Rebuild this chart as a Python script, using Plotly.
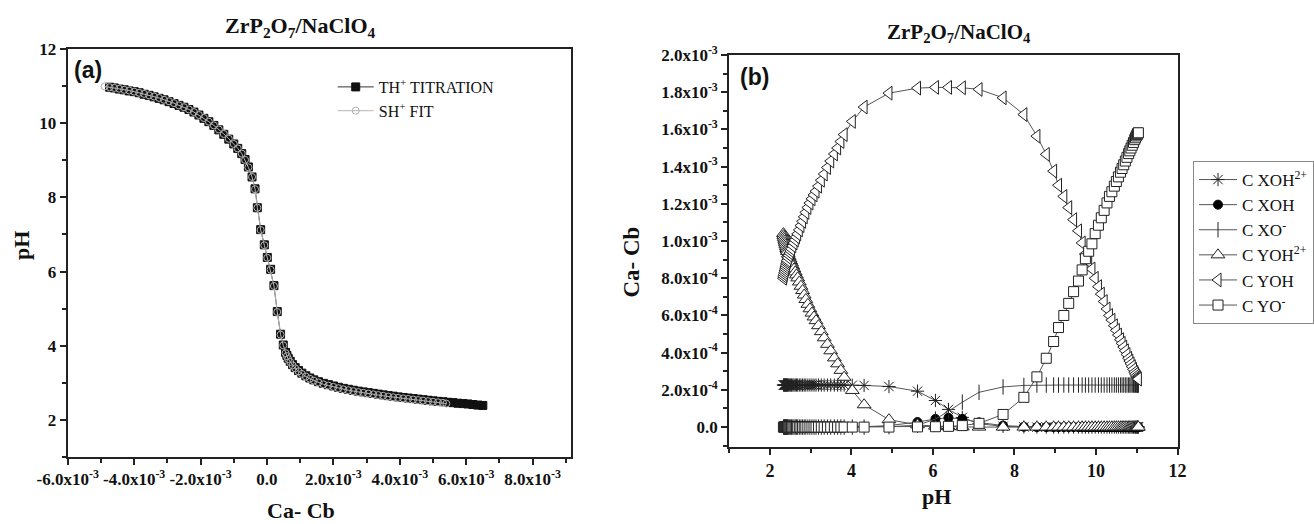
import plotly.graph_objects as go

W, H = 1314, 524

# ---------------- Panel (a) data ----------------
TITR_CACB = [-4.74e-3, -4.60e-3, -4.45e-3, -4.30e-3, -4.15e-3, -4.00e-3, -3.85e-3, -3.70e-3, -3.55e-3, -3.40e-3,
             -3.25e-3, -3.10e-3, -2.95e-3, -2.80e-3, -2.65e-3, -2.50e-3, -2.35e-3, -2.20e-3, -2.05e-3, -1.90e-3,
             -1.75e-3, -1.60e-3, -1.45e-3, -1.30e-3, -1.15e-3, -1.00e-3, -0.88e-3, -0.76e-3, -0.66e-3, -0.56e-3,
             -0.45e-3, -0.36e-3, -0.29e-3, -0.19e-3, -0.08e-3, 0.01e-3, 0.11e-3, 0.21e-3, 0.31e-3, 0.41e-3,
             0.49e-3, 0.56e-3, 0.60e-3, 0.64e-3, 0.70e-3, 0.77e-3, 0.85e-3, 0.95e-3, 1.05e-3, 1.17e-3,
             1.29e-3, 1.41e-3, 1.55e-3, 1.70e-3, 1.85e-3, 2.00e-3, 2.15e-3, 2.30e-3, 2.45e-3, 2.60e-3,
             2.75e-3, 2.90e-3, 3.05e-3, 3.20e-3, 3.35e-3, 3.50e-3, 3.65e-3, 3.80e-3, 3.95e-3, 4.10e-3,
             4.25e-3, 4.40e-3, 4.55e-3, 4.70e-3, 4.85e-3, 5.00e-3, 5.15e-3, 5.30e-3, 5.45e-3, 5.60e-3,
             5.75e-3, 5.90e-3, 6.05e-3, 6.20e-3, 6.35e-3, 6.50e-3]
TITR_PH = [10.97, 10.95, 10.92, 10.90, 10.87, 10.85, 10.82, 10.78, 10.75, 10.71,
           10.67, 10.63, 10.58, 10.53, 10.48, 10.43, 10.37, 10.30, 10.22, 10.13,
           10.04, 9.94, 9.82, 9.70, 9.57, 9.44, 9.32, 9.18, 9.02, 8.82,
           8.55, 8.23, 7.72, 7.13, 6.72, 6.38, 6.06, 5.62, 4.92, 4.31,
           4.02, 3.82, 3.74, 3.66, 3.58, 3.49, 3.41, 3.33, 3.26, 3.19,
           3.13, 3.08, 3.03, 2.985, 2.95, 2.915, 2.88, 2.85, 2.825, 2.80,
           2.775, 2.755, 2.735, 2.715, 2.695, 2.675, 2.655, 2.64, 2.62, 2.605,
           2.59, 2.575, 2.56, 2.545, 2.53, 2.515, 2.50, 2.49, 2.475, 2.465,
           2.45, 2.44, 2.43, 2.415, 2.40, 2.39]

FIT_CACB = [-4.89e-3, -4.74e-3, -4.60e-3, -4.45e-3, -4.30e-3, -4.15e-3, -4.00e-3, -3.85e-3, -3.70e-3, -3.55e-3,
            -3.40e-3, -3.25e-3, -3.10e-3, -2.95e-3, -2.80e-3, -2.65e-3, -2.50e-3, -2.35e-3, -2.20e-3, -2.05e-3,
            -1.90e-3, -1.75e-3, -1.60e-3, -1.45e-3, -1.30e-3, -1.15e-3, -1.00e-3, -0.88e-3, -0.76e-3, -0.66e-3,
            -0.56e-3, -0.45e-3, -0.36e-3, -0.29e-3, -0.19e-3, -0.08e-3, 0.01e-3, 0.11e-3, 0.21e-3, 0.31e-3,
            0.41e-3, 0.49e-3, 0.56e-3, 0.60e-3, 0.64e-3, 0.70e-3, 0.77e-3, 0.85e-3, 0.95e-3, 1.05e-3,
            1.17e-3, 1.29e-3, 1.41e-3, 1.55e-3, 1.70e-3, 1.85e-3, 2.00e-3, 2.15e-3, 2.30e-3, 2.45e-3,
            2.60e-3, 2.75e-3, 2.90e-3, 3.05e-3, 3.20e-3, 3.35e-3, 3.50e-3, 3.65e-3, 3.80e-3, 3.95e-3,
            4.10e-3, 4.25e-3, 4.40e-3, 4.55e-3, 4.70e-3, 4.85e-3, 5.00e-3, 5.15e-3, 5.30e-3, 5.40e-3]
FIT_PH = [10.99, 10.97, 10.95, 10.93, 10.90, 10.88, 10.85, 10.82, 10.79, 10.75,
          10.72, 10.68, 10.63, 10.59, 10.54, 10.48, 10.43, 10.37, 10.30, 10.22,
          10.14, 10.04, 9.94, 9.83, 9.71, 9.58, 9.44, 9.32, 9.18, 9.01,
          8.81, 8.55, 8.22, 7.72, 7.12, 6.71, 6.37, 6.05, 5.61, 4.91,
          4.30, 4.01, 3.80, 3.72, 3.64, 3.56, 3.47, 3.39, 3.31, 3.24,
          3.17, 3.11, 3.06, 3.01, 2.96, 2.925, 2.89, 2.855, 2.825, 2.80,
          2.775, 2.75, 2.73, 2.71, 2.69, 2.67, 2.65, 2.63, 2.61, 2.595,
          2.58, 2.565, 2.55, 2.535, 2.52, 2.505, 2.49, 2.475, 2.46, 2.44]

# ---------------- Panel (b) data ----------------
PH_B = [2.33, 2.34, 2.35, 2.36, 2.37, 2.38, 2.39, 2.40, 2.41, 2.42,
        2.43, 2.45, 2.47, 2.49, 2.51, 2.53, 2.56, 2.59, 2.62, 2.65,
        2.68, 2.72, 2.76, 2.80, 2.84, 2.88, 2.93, 2.98, 3.03, 3.08,
        3.13, 3.19, 3.26, 3.33, 3.41, 3.49, 3.58, 3.66, 3.74, 3.82,
        4.02, 4.31, 4.92, 5.62, 6.06, 6.38, 6.72, 7.13, 7.72, 8.23,
        8.55, 8.78, 8.96, 9.08, 9.21, 9.33, 9.45, 9.57, 9.66, 9.74,
        9.82, 9.90, 9.98, 10.06, 10.13, 10.20, 10.27, 10.33, 10.39, 10.45,
        10.50, 10.55, 10.60, 10.64, 10.68, 10.72, 10.76, 10.80, 10.83, 10.86,
        10.89, 10.92, 10.95, 10.97, 10.99, 11.01, 11.02, 11.03, 11.04]

C_XOH2 = [
    2.26e-4, 2.26e-4, 2.26e-4, 2.26e-4, 2.26e-4, 2.26e-4, 2.26e-4, 2.26e-4, 2.26e-4, 2.26e-4,
    2.26e-4, 2.26e-4, 2.26e-4, 2.26e-4, 2.26e-4, 2.26e-4, 2.26e-4, 2.26e-4, 2.26e-4, 2.26e-4,
    2.26e-4, 2.26e-4, 2.26e-4, 2.26e-4, 2.26e-4, 2.26e-4, 2.26e-4, 2.26e-4, 2.26e-4, 2.26e-4,
    2.26e-4, 2.26e-4, 2.26e-4, 2.26e-4, 2.26e-4, 2.26e-4, 2.26e-4, 2.26e-4, 2.26e-4, 2.26e-4,
    2.25e-4, 2.24e-4, 2.18e-4, 1.93e-4, 1.43e-4, 9.5e-5, 5.2e-5, 1.8e-5, 4e-6, 1e-6,
    0, 0, 0, 0, 0, 0, 0, 0, 0, 0,
    0, 0, 0, 0, 0, 0, 0, 0, 0, 0,
    0, 0, 0, 0, 0, 0, 0, 0, 0, 0,
    0, 0, 0, 0, 0, 0, 0, 0, 0]
C_XOH = [
    0, 0, 0, 0, 0, 0, 0, 0, 0, 0,
    0, 0, 0, 0, 0, 0, 0, 0, 0, 0,
    0, 0, 0, 0, 0, 0, 0, 0, 0, 0,
    0, 0, 0, 0, 0, 0, 0, 0, 0, 0,
    1e-6, 2e-6, 8e-6, 2.7e-5, 4.4e-5, 5.0e-5, 4.4e-5, 2.5e-5, 8e-6, 2e-6,
    0, 0, 0, 0, 0, 0, 0, 0, 0, 0,
    0, 0, 0, 0, 0, 0, 0, 0, 0, 0,
    0, 0, 0, 0, 0, 0, 0, 0, 0, 0,
    0, 0, 0, 0, 0, 0, 0, 0, 0]
C_XO = [
    0, 0, 0, 0, 0, 0, 0, 0, 0, 0,
    0, 0, 0, 0, 0, 0, 0, 0, 0, 0,
    0, 0, 0, 0, 0, 0, 0, 0, 0, 0,
    0, 0, 0, 0, 0, 0, 0, 0, 0, 0,
    0, 0, 2e-6, 1.0e-5, 4.3e-5, 8.5e-5, 1.34e-4, 1.87e-4, 2.16e-4, 2.24e-4,
    2.26e-4, 2.26e-4, 2.26e-4, 2.26e-4, 2.26e-4, 2.26e-4, 2.26e-4, 2.26e-4, 2.26e-4, 2.26e-4,
    2.26e-4, 2.26e-4, 2.26e-4, 2.26e-4, 2.26e-4, 2.26e-4, 2.26e-4, 2.26e-4, 2.26e-4, 2.26e-4,
    2.26e-4, 2.26e-4, 2.26e-4, 2.26e-4, 2.26e-4, 2.26e-4, 2.26e-4, 2.26e-4, 2.26e-4, 2.26e-4,
    2.26e-4, 2.26e-4, 2.26e-4, 2.26e-4, 2.26e-4, 2.26e-4, 2.26e-4, 2.26e-4, 2.26e-4]
C_YOH2 = [
    1.04e-3, 1.03e-3, 1.02e-3, 1.01e-3, 1.00e-3, 9.9e-4, 9.8e-4, 9.7e-4, 9.6e-4, 9.52e-4,
    9.44e-4, 9.3e-4, 9.17e-4, 9.05e-4, 8.93e-4, 8.82e-4, 8.66e-4, 8.5e-4, 8.34e-4, 8.18e-4,
    8.02e-4, 7.8e-4, 7.57e-4, 7.34e-4, 7.1e-4, 6.86e-4, 6.6e-4, 6.36e-4, 6.13e-4, 5.92e-4,
    5.72e-4, 5.45e-4, 5.13e-4, 4.8e-4, 4.45e-4, 4.1e-4, 3.72e-4, 3.4e-4, 3.05e-4, 2.68e-4,
    1.97e-4, 1.2e-4, 4.0e-5, 1.2e-5, 5e-6, 2e-6, 1e-6, 0, 0, 0,
    0, 0, 0, 0, 0, 0, 0, 0, 0, 0,
    0, 0, 0, 0, 0, 0, 0, 0, 0, 0,
    0, 0, 0, 0, 0, 0, 0, 0, 0, 0,
    0, 0, 0, 0, 0, 0, 0, 0, 0]
C_YOH = [
    8.0e-4, 8.1e-4, 8.2e-4, 8.3e-4, 8.4e-4, 8.5e-4, 8.6e-4, 8.7e-4, 8.8e-4, 8.88e-4,
    8.96e-4, 9.1e-4, 9.23e-4, 9.35e-4, 9.47e-4, 9.58e-4, 9.74e-4, 9.9e-4, 1.006e-3, 1.022e-3,
    1.038e-3, 1.06e-3, 1.083e-3, 1.106e-3, 1.13e-3, 1.154e-3, 1.18e-3, 1.204e-3, 1.227e-3, 1.248e-3,
    1.268e-3, 1.295e-3, 1.327e-3, 1.36e-3, 1.395e-3, 1.43e-3, 1.468e-3, 1.50e-3, 1.535e-3, 1.572e-3,
    1.643e-3, 1.72e-3, 1.795e-3, 1.822e-3, 1.826e-3, 1.826e-3, 1.824e-3, 1.815e-3, 1.77e-3, 1.68e-3,
    1.564e-3, 1.466e-3, 1.376e-3, 1.30e-3, 1.24e-3, 1.18e-3, 1.115e-3, 1.055e-3, 9.9e-4, 9.3e-4,
    8.9e-4, 8.5e-4, 8.0e-4, 7.55e-4, 7.15e-4, 6.75e-4, 6.35e-4, 6.0e-4, 5.75e-4, 5.45e-4,
    5.2e-4, 4.95e-4, 4.7e-4, 4.5e-4, 4.3e-4, 4.1e-4, 3.9e-4, 3.7e-4, 3.55e-4, 3.4e-4,
    3.25e-4, 3.1e-4, 2.95e-4, 2.85e-4, 2.75e-4, 2.68e-4, 2.64e-4, 2.6e-4, 2.58e-4]
C_YO = [
    0, 0, 0, 0, 0, 0, 0, 0, 0, 0,
    0, 0, 0, 0, 0, 0, 0, 0, 0, 0,
    0, 0, 0, 0, 0, 0, 0, 0, 0, 0,
    0, 0, 0, 0, 0, 0, 0, 0, 0, 0,
    0, 0, 0, 1e-6, 2e-6, 4e-6, 8e-6, 2.0e-5, 6.8e-5, 1.6e-4,
    2.7e-4, 3.7e-4, 4.6e-4, 5.35e-4, 6.0e-4, 6.65e-4, 7.28e-4, 7.85e-4, 8.45e-4, 9.05e-4,
    9.45e-4, 9.85e-4, 1.04e-3, 1.085e-3, 1.125e-3, 1.165e-3, 1.205e-3, 1.24e-3, 1.265e-3, 1.295e-3,
    1.32e-3, 1.345e-3, 1.37e-3, 1.39e-3, 1.41e-3, 1.43e-3, 1.45e-3, 1.47e-3, 1.485e-3, 1.50e-3,
    1.515e-3, 1.53e-3, 1.545e-3, 1.555e-3, 1.565e-3, 1.572e-3, 1.576e-3, 1.58e-3, 1.582e-3]

# tick labels
A_XTICKS = [-6e-3, -4e-3, -2e-3, 0.0, 2e-3, 4e-3, 6e-3, 8e-3]
A_XLABELS = ["-6.0x10<sup>-3</sup>", "-4.0x10<sup>-3</sup>", "-2.0x10<sup>-3</sup>", "0.0",
             "2.0x10<sup>-3</sup>", "4.0x10<sup>-3</sup>", "6.0x10<sup>-3</sup>", "8.0x10<sup>-3</sup>"]
A_YTICKS = [2, 4, 6, 8, 10, 12]
B_XTICKS = [2, 4, 6, 8, 10, 12]
B_YTICKS = [0.0, 2e-4, 4e-4, 6e-4, 8e-4, 1.0e-3, 1.2e-3, 1.4e-3, 1.6e-3, 1.8e-3, 2.0e-3]
B_YLABELS = ["0.0", "2.0x10<sup>-4</sup>", "4.0x10<sup>-4</sup>", "6.0x10<sup>-4</sup>", "8.0x10<sup>-4</sup>",
             "1.0x10<sup>-3</sup>", "1.2x10<sup>-3</sup>", "1.4x10<sup>-3</sup>", "1.6x10<sup>-3</sup>",
             "1.8x10<sup>-3</sup>", "2.0x10<sup>-3</sup>"]

SERIF = "Liberation Serif"

def px(x):
    return x / W

def py(y):
    return 1 - y / H

fig = go.Figure()

# Panel (a)
fig.add_trace(go.Scatter(
    x=TITR_CACB, y=TITR_PH, mode="lines+markers", name="TH<sup>+</sup> TITRATION",
    xaxis="x", yaxis="y", legend="legend",
    line=dict(color="#333333", width=1),
    marker=dict(symbol="square", size=8, color="#111111", line=dict(color="#111111", width=1))))
fig.add_trace(go.Scatter(
    x=FIT_CACB, y=FIT_PH, mode="lines+markers", name="SH<sup>+</sup> FIT",
    xaxis="x", yaxis="y", legend="legend",
    line=dict(color="#b5b5b5", width=1),
    marker=dict(symbol="circle-open", size=7, color="#b0b0b0", line=dict(width=1))))

# Panel (b)
common_line = dict(color="#555555", width=1)
fig.add_trace(go.Scatter(
    x=PH_B, y=C_XOH2, mode="lines+markers", name="C XOH<sup>2+</sup>",
    xaxis="x2", yaxis="y2", legend="legend2", line=common_line,
    marker=dict(symbol="asterisk-open", size=11, color="#222222", line=dict(color="#222222", width=1))))
fig.add_trace(go.Scatter(
    x=PH_B, y=C_XOH, mode="lines+markers", name="C XOH",
    xaxis="x2", yaxis="y2", legend="legend2", line=common_line,
    marker=dict(symbol="circle", size=9, color="#000000", line=dict(color="#000000", width=1))))
fig.add_trace(go.Scatter(
    x=PH_B, y=C_XO, mode="lines+markers", name="C XO<sup>-</sup>",
    xaxis="x2", yaxis="y2", legend="legend2", line=common_line,
    marker=dict(symbol="line-ns-open", size=11, color="#222222", line=dict(color="#222222", width=1))))
fig.add_trace(go.Scatter(
    x=PH_B, y=C_YOH2, mode="lines+markers", name="C YOH<sup>2+</sup>",
    xaxis="x2", yaxis="y2", legend="legend2", line=common_line,
    marker=dict(symbol="triangle-up", size=12, color="white", line=dict(color="#222222", width=1))))
fig.add_trace(go.Scatter(
    x=PH_B, y=C_YOH, mode="lines+markers", name="C YOH",
    xaxis="x2", yaxis="y2", legend="legend2", line=common_line,
    marker=dict(symbol="triangle-left", size=12, color="white", line=dict(color="#222222", width=1))))
fig.add_trace(go.Scatter(
    x=PH_B, y=C_YO, mode="lines+markers", name="C YO<sup>-</sup>",
    xaxis="x2", yaxis="y2", legend="legend2", line=common_line,
    marker=dict(symbol="square", size=10, color="white", line=dict(color="#222222", width=1))))

axis_common = dict(
    showline=True, linecolor="#222222", linewidth=2, mirror=True,
    ticks="outside", ticklen=6, tickwidth=2, tickcolor="#222222",
    showgrid=False, zeroline=False, automargin=False,
)
minor_common = dict(ticks="outside", ticklen=4, tickwidth=1.5, tickcolor="#222222", showgrid=False)

fig.update_layout(
    template="none",
    width=W, height=H,
    margin=dict(l=0, r=0, t=0, b=0, pad=0),
    paper_bgcolor="white", plot_bgcolor="white",
    font=dict(family=SERIF, color="#111111"),
    xaxis=dict(domain=[px(68), px(573)], anchor="y", range=[-6e-3, 9.15e-3],
               tickmode="array", tickvals=A_XTICKS, ticktext=A_XLABELS,
               tickfont=dict(family=SERIF, size=17, weight="bold"),
               minor=dict(dtick=1e-3, tick0=0, **minor_common),
               **axis_common),
    yaxis=dict(domain=[py(457), py(49)], anchor="x", range=[1, 12],
               tickmode="array", tickvals=A_YTICKS,
               tickfont=dict(family=SERIF, size=17, weight="bold"),
               minor=dict(dtick=1, tick0=0, **minor_common),
               **axis_common),
    xaxis2=dict(domain=[px(732), px(1182)], anchor="y2", range=[1, 12],
                tickmode="array", tickvals=B_XTICKS,
                tickfont=dict(family=SERIF, size=18, weight="bold"),
                minor=dict(dtick=1, tick0=0, **minor_common),
                **axis_common),
    yaxis2=dict(domain=[py(447), py(55)], anchor="x2", range=[-1.07e-4, 2.0e-3],
                tickmode="array", tickvals=B_YTICKS, ticktext=B_YLABELS,
                tickfont=dict(family=SERIF, size=17, weight="bold"),
                minor=dict(dtick=1e-4, tick0=0, **minor_common),
                **axis_common),
    legend=dict(x=px(334), y=py(70), xanchor="left", yanchor="top", itemwidth=36,
                bgcolor="rgba(0,0,0,0)", borderwidth=0,
                font=dict(family=SERIF, size=16, color="#111111"), tracegroupgap=0),
    legend2=dict(x=px(1198), y=py(161), xanchor="left", yanchor="top", itemwidth=38,
                 bgcolor="white", bordercolor="#888888", borderwidth=1,
                 font=dict(family=SERIF, size=17, color="#111111"), tracegroupgap=0),
    showlegend=True,
)

title_txt = "ZrP<sub>2</sub>O<sub>7</sub>/NaClO<sub>4</sub>"
ann = [
    dict(text=title_txt, x=px(302), y=py(27), font=dict(family=SERIF, size=22, weight="bold")),
    dict(text=title_txt, x=px(963), y=py(33), font=dict(family=SERIF, size=21, weight="bold")),
    dict(text="(a)", x=px(88), y=py(70), font=dict(family="Liberation Sans", size=23, weight="bold")),
    dict(text="(b)", x=px(757), y=py(77), font=dict(family="Liberation Sans", size=23, weight="bold")),
    dict(text="pH", x=px(21), y=py(245), textangle=-90, font=dict(family=SERIF, size=22, weight="bold")),
    dict(text="Ca- Cb", x=px(302), y=py(510), font=dict(family=SERIF, size=22, weight="bold")),
    dict(text="Ca- Cb", x=px(633), y=py(262), textangle=-90, font=dict(family=SERIF, size=23, weight="bold")),
    dict(text="pH", x=px(940), y=py(496), font=dict(family=SERIF, size=22, weight="bold")),
]
for a in ann:
    a.update(xref="paper", yref="paper", showarrow=False, xanchor="center", yanchor="middle")
fig.update_layout(annotations=ann)

fig.write_html("out.html",
               config={"displayModeBar": False},
               post_script="document.body.style.margin='0';document.body.style.padding='0';")
